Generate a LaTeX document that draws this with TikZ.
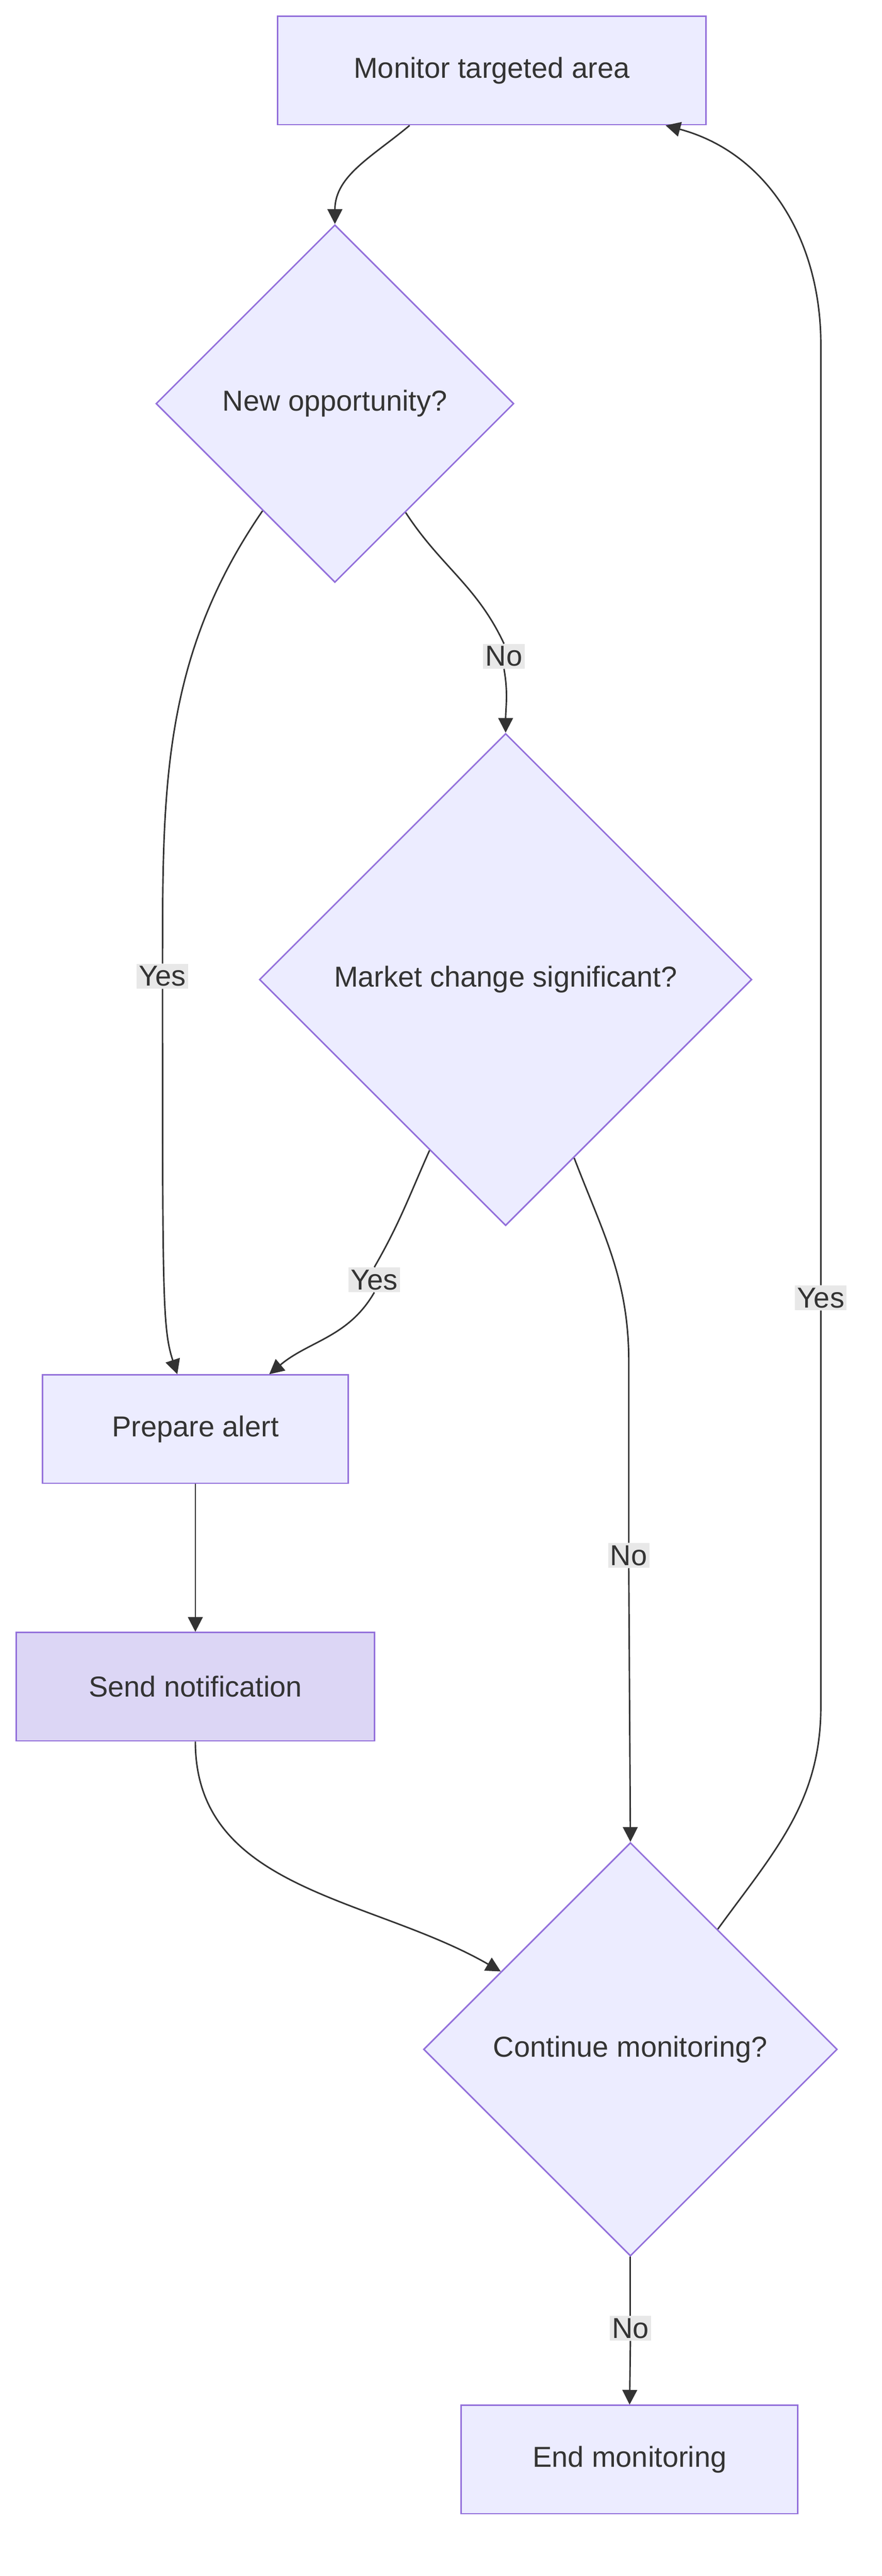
\documentclass[tikz,border=0pt]{standalone}
\usepackage{fontspec}
\setmainfont{Liberation Sans}
\usetikzlibrary{arrows.meta,shapes.geometric,positioning,calc}
\definecolor{boxfill}{HTML}{ECECFF}
\definecolor{boxline}{HTML}{9370DB}
\definecolor{sendfill}{HTML}{DCD6F5}
\definecolor{txt}{HTML}{333333}
\definecolor{lblfill}{HTML}{E8E8E8}
\tikzset{
  task/.style={rectangle,draw=boxline,fill=boxfill,line width=1.3pt,minimum height=3.3cm,text=txt,font=\fontsize{25}{30}\selectfont},
  choice/.style={diamond,aspect=1,draw=boxline,fill=boxfill,line width=1.3pt,inner sep=0pt,text=txt,font=\fontsize{25}{30}\selectfont},
  lbl/.style={fill=lblfill,text=txt,inner sep=2pt,font=\fontsize{25}{30}\selectfont},
  flow/.style={draw=txt,line width=1.3pt},
  arr/.style={flow,-{Triangle[length=0.45cm,width=0.45cm]}}
}
\begin{document}
\begin{tikzpicture}[x=0.05cm,y=-0.05cm]
  \useasboundingbox (0,0) rectangle (537,1570);
  % nodes
  \node[task,minimum width=13.05cm] (mon) at (299.5,43) {Monitor targeted area};
  \node[choice,minimum size=10.9cm] (nop) at (204,246) {New opportunity?};
  \node[choice,minimum size=15cm] (mkt) at (308,597) {Market change significant?};
  \node[task,minimum width=9.3cm] (alert) at (119,871) {Prepare alert};
  \node[task,minimum width=10.9cm,fill=sendfill] (send) at (119,1028) {Send notification};
  \node[choice,minimum size=12.6cm] (cont) at (384,1249) {Continue monitoring?};
  \node[task,minimum width=10.25cm] (end) at (383.5,1499) {End monitoring};
  % labels
  \node[lbl] (yes1) at (99,595) {Yes};
  \node[lbl] (no1) at (307,400) {No};
  \node[lbl] (yes2) at (228,780) {Yes};
  \node[lbl] (no2) at (383,948) {No};
  \node[lbl] (yes3) at (500,791) {Yes};
  \node[lbl] (no3) at (384,1419) {No};
  \coordinate (bendA) at (383,830);
  \coordinate (bendB) at (500,1040);
  \coordinate (bendC) at (500,210);
  % connectors
  \draw[arr] ([xshift=-2.5cm]mon.south) to[out=-140,in=90] (nop.north);
  \draw[flow] (nop.-124) .. controls (99,400) and (99,480) .. (yes1.north);
  \draw[arr] (yes1.south) .. controls (99,790) and (99,810) .. ([xshift=-0.55cm]alert.north);
  \draw[flow] (nop.-57) to[out=-57,in=115] (no1.north);
  \draw[arr] (no1.south) to[out=-80,in=90] (mkt.north);
  \draw[flow] (mkt.-114) to[out=-114,in=60] (yes2.north);
  \draw[arr] (yes2.south) to[out=-120,in=40] ([xshift=2.25cm]alert.north);
  \draw[flow] (mkt.-69) to[out=-69,in=90] (bendA) -- (no2.north);
  \draw[arr] (no2.south) -- (cont.north);
  \draw[arr] (alert.south) -- (send.north);
  \draw[arr] (send.south) to[out=-90,in=150] (cont.149);
  \draw[flow] (cont.54) to[out=54,in=-90] (bendB) -- (yes3.south);
  \draw[arr] (yes3.north) -- (bendC) to[out=90,in=-15] ([xshift=-1.25cm]mon.south east);
  \draw[flow] (cont.south) -- (no3.north);
  \draw[arr] (no3.south) -- (end.north);
\end{tikzpicture}
\end{document}
